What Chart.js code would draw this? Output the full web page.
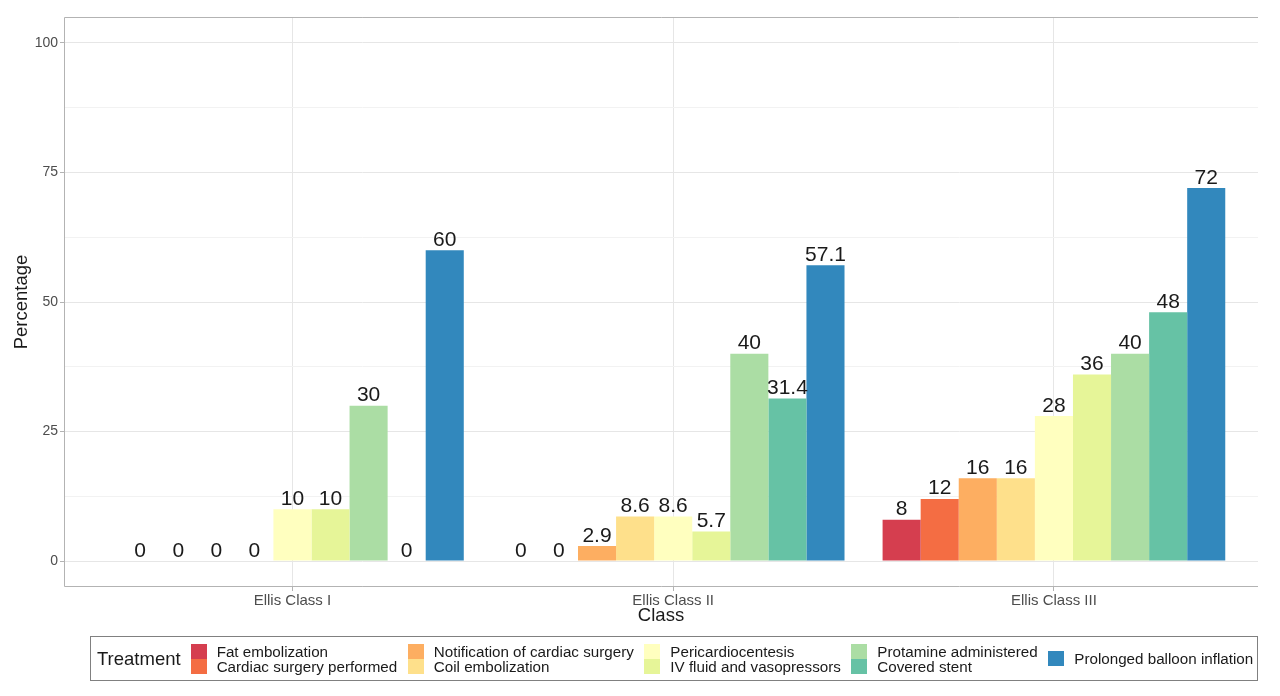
<!DOCTYPE html>
<html>
<head>
<meta charset="utf-8">
<script src="https://cdn.jsdelivr.net/npm/chart.js@4/dist/chart.umd.min.js"></script>
<style>
  html, body { margin: 0; padding: 0; background: #fff; overflow: hidden; }
  body { font-family: 'Liberation Sans', Arial, sans-serif; }
  #wrap { position: relative; width: 1280px; height: 696px; }
  #legend {
    position: absolute; left: 90px; top: 636px; width: 1166px; height: 43px;
    border: 1px solid #808080; box-sizing: content-box;
    display: flex; align-items: center; color: #1a1a1a;
  }
  #legend .title { font-size: 18.5px; margin-left: 6px; margin-right: 10px; }
  #legend .col { display: flex; flex-direction: column; margin-right: 10.5px; }
  #legend .item { display: flex; align-items: center; height: 15px; font-size: 15.2px; white-space: nowrap; }
  #legend .key { width: 16px; height: 15px; margin-right: 10px; }
</style>
</head>
<body>
<div id="wrap">
  <canvas id="chart"></canvas>
  <div id="legend"></div>
</div>
<script>
const classLabels = ['Ellis Class I', 'Ellis Class II', 'Ellis Class III'];

const treatments = [
  'Fat embolization',
  'Cardiac surgery performed',
  'Notification of cardiac surgery',
  'Coil embolization',
  'Pericardiocentesis',
  'IV fluid and vasopressors',
  'Protamine administered',
  'Covered stent',
  'Prolonged balloon inflation',
];

const treatmentColors = ['#D53E4F', '#F46D43', '#FDAE61', '#FEE08B', '#FFFFBF', '#E6F598', '#ABDDA4', '#66C2A5', '#3288BD'];

// percentage per class (I, II, III)
const fatEmbolization    = [0, 0, 8];
const cardiacSurgery     = [0, 0, 12];
const notification       = [0, 2.9, 16];
const coilEmbolization   = [0, 8.6, 16];
const pericardiocentesis = [10, 8.6, 28];
const ivFluid            = [10, 5.7, 36];
const protamine          = [30, 40, 40];
const coveredStent       = [0, 31.4, 48];
const prolongedBalloon   = [60, 57.1, 72];

const seriesValues = [fatEmbolization, cardiacSurgery, notification, coilEmbolization,
  pericardiocentesis, ivFluid, protamine, coveredStent, prolongedBalloon];

const yTicks = [0, 25, 50, 75, 100];

const FONT = "'Liberation Sans', Arial, sans-serif";

const datasets = treatments.map((name, i) => ({
  label: name,
  data: seriesValues[i].map((v, j) => ({ x: j + 1, y: v })),
  backgroundColor: treatmentColors[i],
  borderWidth: 0,
  categoryPercentage: 0.9,
  barPercentage: 1.0,
}));

const labelPlugin = {
  id: 'barLabels',
  afterDatasetsDraw(chart) {
    const ctx = chart.ctx;
    ctx.save();
    ctx.font = `21px ${FONT}`;
    ctx.fillStyle = '#1a1a1a';
    ctx.textAlign = 'center';
    ctx.textBaseline = 'alphabetic';
    chart.data.datasets.forEach((ds, di) => {
      const meta = chart.getDatasetMeta(di);
      meta.data.forEach((bar, j) => {
        ctx.fillText(String(seriesValues[di][j]), bar.x, bar.y - 4.5);
      });
    });
    ctx.restore();
  },
};

// panel frame: left, top and bottom (the right edge is cut off in the original)
const panelPlugin = {
  id: 'panelBorder',
  afterDraw(chart) {
    const { left, top, right, bottom } = chart.chartArea;
    const l = Math.round(left) + 0.5, t = Math.round(top) + 0.5, b = Math.round(bottom) - 0.5;
    const ctx = chart.ctx;
    ctx.save();
    ctx.strokeStyle = '#b3b3b3';
    ctx.lineWidth = 1;
    ctx.beginPath();
    ctx.moveTo(right, t); ctx.lineTo(l, t); ctx.lineTo(l, b); ctx.lineTo(right, b);
    ctx.stroke();
    ctx.restore();
  },
};

new Chart(document.getElementById('chart').getContext('2d'), {
  type: 'bar',
  data: { datasets },
  plugins: [labelPlugin, panelPlugin],
  options: {
    responsive: true,
    maintainAspectRatio: false,
    animation: false,
    layout: { padding: { top: 17, right: 22, bottom: 69, left: 0 } },
    plugins: { legend: { display: false }, tooltip: { enabled: false } },
    scales: {
      x: {
        type: 'linear',
        min: 0.4,
        max: 3.536,
        offset: false,
        afterBuildTicks: s => { s.ticks = classLabels.map((_, i) => ({ value: i + 1 })); },
        afterFit: s => { s.height = 40; },
        border: { display: false },
        grid: { offset: false, color: '#e6e6e6', lineWidth: 1, tickLength: 4, tickColor: '#b3b3b3' },
        ticks: {
          padding: 1,
          color: '#4d4d4d',
          font: { family: FONT, size: 15 },
          callback: v => classLabels[v - 1],
        },
        title: {
          display: true, text: 'Class', color: '#1a1a1a',
          font: { family: FONT, size: 18.5 }, padding: { top: 0, bottom: 0 },
        },
      },
      y: {
        min: -5,
        max: 105,
        afterBuildTicks: s => {
          const t = [];
          for (let v = 0; v <= 100; v += 12.5) t.push({ value: v });
          s.ticks = t;
        },
        afterFit: s => { s.width = 64; },
        border: { display: false },
        grid: {
          color: c => (yTicks.includes(c.tick.value) ? '#e6e6e6' : '#f2f2f2'),
          lineWidth: 1,
          tickLength: 4,
          tickColor: c => (yTicks.includes(c.tick.value) ? '#b3b3b3' : 'rgba(0,0,0,0)'),
        },
        ticks: {
          padding: 2,
          color: '#4d4d4d',
          font: { family: FONT, size: 14 },
          callback: v => (yTicks.includes(v) ? String(v) : ''),
        },
        title: {
          display: true, text: 'Percentage', color: '#1a1a1a',
          font: { family: FONT, size: 18.5 }, padding: { top: 11, bottom: 0 },
        },
      },
    },
  },
});

// legend laid out in columns of two, like the original
const legend = document.getElementById('legend');
legend.innerHTML = '<span class="title">Treatment</span>';
for (let c = 0; c < treatments.length; c += 2) {
  const col = document.createElement('div');
  col.className = 'col';
  for (let i = c; i < Math.min(c + 2, treatments.length); i++) {
    col.innerHTML += `<div class="item"><span class="key" style="background:${treatmentColors[i]}"></span>${treatments[i]}</div>`;
  }
  legend.appendChild(col);
}
</script>
</body>
</html>
